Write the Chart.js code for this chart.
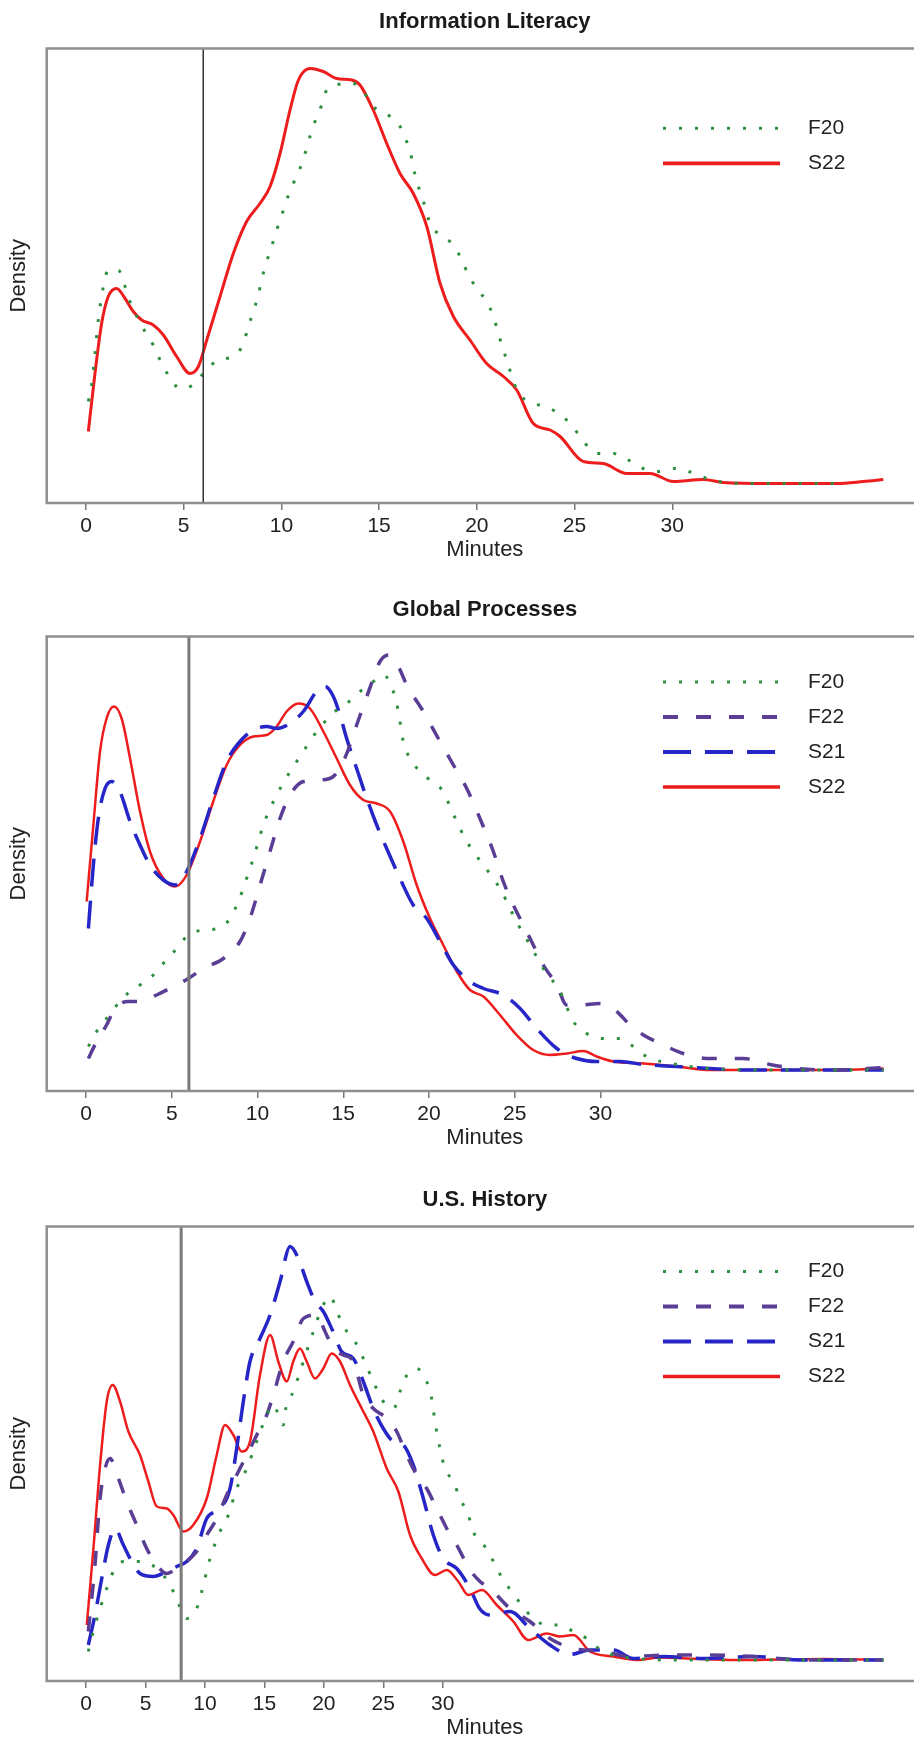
<!DOCTYPE html>
<html><head><meta charset="utf-8">
<script src="https://cdn.jsdelivr.net/npm/chart.js@4.4.1/dist/chart.umd.min.js"></script>
<style>
html,body{margin:0;padding:0;width:914px;height:1742px;overflow:hidden;background:#fff;}
canvas{position:absolute;left:0;}
</style></head><body>
<canvas id="c1" width="970" height="566" style="top:0px"></canvas>
<canvas id="c2" width="970" height="566" style="top:588px"></canvas>
<canvas id="c3" width="970" height="566" style="top:1178px"></canvas>
<script>
// ---------- DATA ----------
const panelTitles = ["Information Literacy", "Global Processes", "U.S. History"];
const xTickValues = [0, 5, 10, 15, 20, 25, 30];
const cutoffMinutes = [6, 6, 8];

// Information Literacy
const il_F20_min = [0.12,0.29,0.46,0.63,0.89,1.14,1.65,2.0,2.25,3.02,3.44,3.79,4.21,4.81,5.58,6.09,6.77,7.54,8.05,8.31,8.56,8.82,9.0,9.25,9.5,9.76,10.02,10.27,10.61,10.95,11.21,11.46,11.72,12.06,12.32,13.0,13.6,14.2,14.7,15.47,16.07,16.41,16.67,16.84,17.09,17.35,17.6,18.12,18.8,19.23,19.57,20.0,20.5,20.85,21.1,21.36,21.61,21.87,22.21,22.98,23.75,24.51,25.03,25.54,26.14,26.99,27.75,28.52,29.29,30.14,31.0,32.0,34.0,38.4];
const il_F20_den = [0.0165,0.0198,0.0261,0.0328,0.0395,0.0428,0.0428,0.0395,0.0365,0.0305,0.0278,0.0248,0.0218,0.0191,0.0201,0.0225,0.0248,0.0255,0.0281,0.0315,0.0345,0.0378,0.0411,0.0445,0.0475,0.0508,0.0538,0.0568,0.0601,0.0631,0.0661,0.0695,0.0725,0.0758,0.0788,0.0800,0.0802,0.0784,0.0755,0.0738,0.0715,0.0685,0.0651,0.0618,0.0585,0.0555,0.0521,0.0498,0.0478,0.0448,0.0418,0.0391,0.0365,0.0335,0.0301,0.0268,0.0238,0.0205,0.0178,0.0161,0.0151,0.0131,0.0108,0.0081,0.0061,0.0061,0.0048,0.0031,0.0025,0.0031,0.0023,0.0008,0.0001,0.0001];
const il_S22_min = [0.12,0.46,0.8,1.14,1.57,2.0,2.42,2.85,3.44,3.96,4.64,5.32,5.75,6.18,6.86,7.54,8.22,8.9,9.42,9.93,10.44,10.87,11.46,12.14,12.83,13.6,14.02,14.7,15.39,16.07,16.75,17.44,18.12,18.8,19.65,20.5,21.36,22.04,22.89,23.75,24.26,25.45,26.47,27.67,28.86,30.06,31.59,32.6,35.0,38.42,39.78,40.8];
const il_S22_den = [0.0105,0.0221,0.0321,0.0375,0.0391,0.0371,0.0345,0.0328,0.0318,0.0298,0.0255,0.0221,0.0235,0.0288,0.0375,0.0461,0.0525,0.0561,0.0595,0.0661,0.0748,0.0808,0.0831,0.0825,0.0811,0.0808,0.0798,0.0748,0.0681,0.0621,0.0581,0.0515,0.0401,0.0335,0.0288,0.0241,0.0215,0.0188,0.0121,0.0108,0.0095,0.0045,0.0041,0.0021,0.0021,0.0005,0.0009,0.0003,0.0001,0.0001,0.0005,0.0009];

// Global Processes
const gp_F20_min = [0.14,0.62,1.2,1.98,2.57,3.15,3.92,4.61,5.29,5.87,6.84,7.71,8.4,8.88,9.17,9.46,9.76,10.05,10.34,10.73,11.12,11.6,12.09,12.67,13.16,13.94,14.62,15.2,15.98,16.75,17.34,17.92,18.21,18.5,18.89,19.48,20.16,20.83,21.22,21.62,22.1,22.58,23.17,23.75,24.24,24.72,25.21,25.89,26.66,27.64,28.42,29.19,30.16,31.14,31.91,32.69,34.44,36.38,39.88,46.5];
const gp_F20_den = [0.0047,0.0077,0.0103,0.0137,0.0157,0.0170,0.0190,0.0217,0.0243,0.0267,0.0280,0.0283,0.0303,0.0337,0.0363,0.0393,0.0423,0.0457,0.0490,0.0523,0.0550,0.0580,0.0607,0.0637,0.0663,0.0697,0.0720,0.0733,0.0757,0.0777,0.0790,0.0757,0.0717,0.0657,0.0623,0.0597,0.0577,0.0557,0.0527,0.0497,0.0463,0.0437,0.0410,0.0383,0.0357,0.0323,0.0290,0.0250,0.0203,0.0157,0.0097,0.0073,0.0063,0.0063,0.0047,0.0027,0.0011,0.0003,0,0];
const gp_F22_min = [0.14,0.62,1.2,1.69,2.47,3.15,4.12,5.09,5.97,6.84,8.01,8.98,9.56,10.15,10.73,11.31,11.9,12.67,13.64,14.42,15.0,15.39,15.78,16.27,16.75,17.14,17.63,18.21,18.7,19.67,20.64,21.42,22.2,22.97,23.75,24.33,24.92,25.5,26.08,26.66,27.45,28.03,28.8,29.97,30.94,31.72,32.5,33.66,34.83,36.38,38.33,39.88,41.44,43.77,46.5];
const gp_F22_den = [0.0023,0.0057,0.0090,0.0123,0.0137,0.0137,0.0150,0.0167,0.0183,0.0203,0.0223,0.0257,0.0303,0.0370,0.0437,0.0503,0.0550,0.0577,0.0580,0.0587,0.0617,0.0650,0.0690,0.0737,0.0783,0.0817,0.0830,0.0807,0.0770,0.0717,0.0657,0.0610,0.0563,0.0503,0.0437,0.0377,0.0330,0.0290,0.0250,0.0210,0.0170,0.0130,0.0130,0.0133,0.0117,0.0090,0.0070,0.0050,0.0033,0.0023,0.0023,0.0011,0.0003,0,0.0005];
const gp_S21_min = [0.14,0.43,0.72,1.11,1.5,1.98,2.57,3.15,3.73,4.51,5.19,5.87,6.65,7.42,8.2,8.98,9.76,10.54,11.12,11.9,12.67,13.45,13.94,14.42,14.81,15.2,15.78,16.37,16.95,17.53,18.31,19.08,19.87,20.64,21.42,22.39,23.17,24.33,25.31,26.28,27.45,28.61,29.78,31.14,32.5,34.44,36.38,37.94,41.83,46.5];
const gp_S21_den = [0.0283,0.0410,0.0503,0.0563,0.0577,0.0557,0.0497,0.0450,0.0410,0.0380,0.0370,0.0397,0.0463,0.0543,0.0617,0.0657,0.0680,0.0687,0.0683,0.0693,0.0717,0.0757,0.0767,0.0747,0.0710,0.0663,0.0603,0.0543,0.0490,0.0443,0.0383,0.0330,0.0303,0.0257,0.0210,0.0177,0.0163,0.0150,0.0123,0.0083,0.0043,0.0023,0.0017,0.0017,0.0011,0.0007,0.0003,0,0,0];
const gp_S22_min = [0.04,0.43,0.82,1.2,1.63,2.08,2.57,3.15,3.73,4.51,5.19,5.87,6.65,7.42,8.2,8.98,9.76,10.54,11.12,11.7,12.38,13.06,13.84,14.62,15.39,16.17,16.95,17.73,18.5,19.28,20.06,20.83,21.62,22.39,23.17,24.14,25.11,26.08,27.06,28.03,29.0,29.78,30.75,32.5,34.44,36.38,39.88,43.77,46.5];
const gp_S22_den = [0.0337,0.0490,0.0637,0.0703,0.0727,0.0703,0.0623,0.0517,0.0437,0.0383,0.0367,0.0390,0.0457,0.0537,0.0610,0.0650,0.0667,0.0670,0.0687,0.0717,0.0733,0.0723,0.0677,0.0623,0.0570,0.0540,0.0533,0.0517,0.0457,0.0370,0.0303,0.0250,0.0197,0.0160,0.0147,0.0110,0.0070,0.0040,0.0030,0.0033,0.0038,0.0027,0.0017,0.0013,0.0007,0,0,0,0.0003];

// U.S. History
const us_F20_min = [0.19,0.61,1.18,1.74,2.3,3.14,4.54,5.95,7.07,7.77,8.47,9.31,9.73,10.43,11.27,11.97,12.67,13.52,14.36,15.2,15.75,16.59,16.8,17.43,18.28,19.12,19.82,20.52,21.22,21.93,22.62,23.32,24.16,25.0,25.85,26.69,27.25,27.81,28.65,29.07,29.35,29.77,30.19,30.89,31.46,32.15,32.57,33.14,33.7,34.4,35.1,35.8,36.64,37.62,38.75,39.73,40.99,42.11,43.51,46.32,49.68,67.06];
const us_F20_den = [0.0017,0.0057,0.0103,0.0143,0.0177,0.0197,0.0197,0.0183,0.0150,0.0113,0.0083,0.0103,0.0137,0.0203,0.0257,0.0290,0.0343,0.0383,0.0437,0.0490,0.0510,0.0470,0.0503,0.0537,0.0597,0.0657,0.0703,0.0727,0.0690,0.0657,0.0637,0.0603,0.0557,0.0517,0.0503,0.0557,0.0577,0.0583,0.0557,0.0523,0.0477,0.0423,0.0383,0.0357,0.0323,0.0290,0.0257,0.0235,0.0223,0.0190,0.0160,0.0137,0.0110,0.0083,0.0070,0.0070,0.0057,0.0043,0.0017,0.0003,0,0];
const us_F22_min = [0.19,0.75,1.18,1.6,2.02,2.72,3.42,4.26,5.1,5.95,6.79,7.63,8.47,9.31,10.15,10.99,11.83,12.67,13.52,14.36,15.2,15.75,16.59,17.43,18.28,19.4,20.1,20.8,21.64,22.48,23.32,24.16,25.29,26.13,26.97,27.81,28.65,29.5,30.34,31.18,32.3,33.14,33.98,35.66,37.34,39.02,40.99,43.51,45.75,49.12,51.92,56.12,60.33,67.06];
const us_F22_den = [0.0057,0.0190,0.0323,0.0383,0.0403,0.0363,0.0317,0.0270,0.0223,0.0190,0.0173,0.0183,0.0197,0.0217,0.0250,0.0283,0.0330,0.0370,0.0410,0.0450,0.0490,0.0530,0.0597,0.0637,0.0683,0.0690,0.0657,0.0623,0.0610,0.0597,0.0530,0.0503,0.0483,0.0457,0.0410,0.0370,0.0343,0.0303,0.0263,0.0230,0.0180,0.0157,0.0143,0.0103,0.0077,0.0043,0.0023,0.0017,0.0007,0.0010,0.0010,0.0007,0,0];
const us_S21_min = [0.19,0.75,1.32,1.88,2.44,3.14,3.84,4.54,5.66,6.79,7.63,8.47,9.31,10.15,11.27,12.11,12.67,13.23,13.79,14.63,15.48,16.32,17.16,17.86,18.56,19.26,19.96,20.66,21.5,22.48,23.32,24.16,25.0,25.85,26.69,27.53,28.37,29.21,30.05,31.18,32.3,33.1,33.98,35.66,37.34,39.02,40.7,42.39,44.35,46.03,48.55,51.92,56.12,60.33,67.06];
const us_S21_den = [0.0030,0.0090,0.0163,0.0230,0.0263,0.0230,0.0197,0.0173,0.0167,0.0177,0.0187,0.0197,0.0223,0.0283,0.0303,0.0343,0.0423,0.0517,0.0597,0.0643,0.0690,0.0757,0.0827,0.0803,0.0757,0.0717,0.0697,0.0663,0.0617,0.0603,0.0557,0.0503,0.0463,0.0437,0.0430,0.0390,0.0323,0.0250,0.0203,0.0183,0.0143,0.0103,0.0090,0.0097,0.0063,0.0030,0.0011,0.0020,0.0020,0.0003,0.0007,0.0003,0.0007,0,0];
const us_S22_min = [0.06,0.62,1.18,1.74,2.24,2.86,3.56,4.54,5.24,5.95,6.79,7.34,8.18,9.02,10.15,10.99,11.69,12.39,13.09,13.79,14.63,15.48,16.17,16.88,17.43,17.99,18.56,19.26,19.96,20.66,21.36,22.2,23.19,24.16,25.29,26.27,27.25,28.24,29.35,30.34,31.31,32.15,33.3,34.54,35.94,37.2,38.75,39.87,40.99,42.39,44.35,46.32,48.28,50.52,54.73,62.01,67.06];
const us_S22_den = [0.0070,0.0223,0.0390,0.0517,0.0550,0.0517,0.0457,0.0410,0.0357,0.0307,0.0303,0.0290,0.0257,0.0270,0.0323,0.0410,0.0470,0.0450,0.0417,0.0437,0.0570,0.0650,0.0597,0.0557,0.0597,0.0623,0.0597,0.0563,0.0583,0.0613,0.0597,0.0550,0.0503,0.0457,0.0383,0.0337,0.0250,0.0203,0.0170,0.0180,0.0157,0.0130,0.0140,0.0110,0.0077,0.0040,0.0053,0.0047,0.0050,0.0017,0.0007,0,0.0005,0.0003,0,0.0002,0];

// ---------- STYLE / RENDER ----------
const FONT = '"Liberation Sans", Arial, Helvetica, sans-serif';
const STYLE = {
  F20: {color: '#2f8f3f', width: 3,   dash: [3, 13]},
  F22: {color: '#5a3d94', width: 3.5, dash: [15, 18]},
  S21: {color: '#2626c8', width: 3.5, dash: [28, 14]},
  S22: {color: '#ee1d1d', width: 3,   dash: []}
};

function pts(xs, ys) {
  const n = Math.min(xs.length, ys.length);
  const out = [];
  for (let i = 0; i < n; i++) out.push({x: xs[i], y: ys[i]});
  return out;
}
function ds(name, xs, ys, w) {
  const s = STYLE[name];
  return {
    label: name, data: pts(xs, ys),
    borderColor: s.color, backgroundColor: s.color,
    borderWidth: w || s.width, borderDash: s.dash, borderCapStyle: 'butt',
    pointRadius: 0, cubicInterpolationMode: 'monotone', fill: false
  };
}

const decor = {
  id: 'decor',
  afterDatasetsDraw(chart, args, opts) {
    const {ctx, chartArea: a, scales: {x}} = chart;
    ctx.save();
    // cutoff line
    const px = x.getPixelForValue(opts.cutoff);
    ctx.setLineDash([]);
    ctx.strokeStyle = opts.cutoffColor;
    ctx.lineWidth = opts.cutoffWidth;
    ctx.beginPath(); ctx.moveTo(px, a.top); ctx.lineTo(px, a.bottom); ctx.stroke();
    // box
    ctx.strokeStyle = '#8f8f8f';
    ctx.lineWidth = 2.5;
    ctx.strokeRect(a.left, a.top, a.right - a.left, a.bottom - a.top);
    // legend
    chart.data.datasets.forEach((d, i) => {
      const yy = opts.legendTop + i * 35;
      const dash = d.borderDash || [];
      ctx.strokeStyle = d.borderColor;
      ctx.lineWidth = (dash.length && dash[0] <= 3) ? d.borderWidth : Math.max(d.borderWidth, 3) + 0.7;
      ctx.lineCap = 'butt';
      ctx.setLineDash(dash);
      ctx.beginPath(); ctx.moveTo(663, yy); ctx.lineTo(780, yy); ctx.stroke();
      ctx.setLineDash([]);
      ctx.fillStyle = '#222';
      ctx.font = '21px ' + FONT;
      ctx.textBaseline = 'middle';
      ctx.textAlign = 'left';
      ctx.fillText(d.label, 808, yy);
    });
    ctx.restore();
  }
};

function makeChart(id, idx, datasets, xmin, xmax, ymin, ymax, decorOpts) {
  return new Chart(document.getElementById(id), {
    type: 'line',
    data: {datasets},
    plugins: [decor],
    options: {
      responsive: false, animation: false, devicePixelRatio: 1,
      layout: {padding: {left: 0, right: 47, top: 0, bottom: 0}},
      plugins: {
        legend: {display: false},
        tooltip: {enabled: false},
        title: {display: true, fullSize: false, text: panelTitles[idx], color: '#1a1a1a',
                font: {family: FONT, size: 22, weight: 'bold', lineHeight: 1.2},
                padding: {top: 8.5, bottom: 13.6}},
        decor: decorOpts
      },
      scales: {
        x: {
          type: 'linear', min: xmin, max: xmax,
          afterFit(s) { s.height = 63; },
          afterBuildTicks(s) { s.ticks = xTickValues.map(v => ({value: v})); },
          ticks: {color: '#222', font: {family: FONT, size: 21}, padding: 3.5,
                  maxRotation: 0, autoSkip: false, callback: v => String(v)},
          grid: {display: true, drawOnChartArea: false, drawTicks: true, tickLength: 7,
                 color: '#777', lineWidth: 1.5},
          border: {display: false},
          title: {display: true, text: 'Minutes', color: '#222',
                  font: {family: FONT, size: 22}, padding: {top: 0, bottom: 2.8}}
        },
        y: {
          type: 'linear', min: ymin, max: ymax,
          afterFit(s) { s.width = 46.7; },
          ticks: {display: false},
          grid: {display: false},
          border: {display: false},
          title: {display: true, text: 'Density', color: '#222',
                  font: {family: FONT, size: 22}, padding: {top: 6, bottom: 0}}
        }
      }
    }
  });
}

makeChart('c1', 0, [
  ds('F20', il_F20_min, il_F20_den),
  ds('S22', il_S22_min, il_S22_den, 3)
], -2.01, 42.83, -0.0038, 0.0871,
  {cutoff: cutoffMinutes[0], cutoffColor: '#333', cutoffWidth: 1.5, legendTop: 128.3});

makeChart('c2', 1, [
  ds('F20', gp_F20_min, gp_F20_den),
  ds('F22', gp_F22_min, gp_F22_den),
  ds('S21', gp_S21_min, gp_S21_den),
  ds('S22', gp_S22_min, gp_S22_den, 2.5)
], -2.29, 48.8, -0.0042, 0.0867,
  {cutoff: cutoffMinutes[1], cutoffColor: '#7a7a7a', cutoffWidth: 3, legendTop: 94});

makeChart('c3', 2, [
  ds('F20', us_F20_min, us_F20_den),
  ds('F22', us_F22_min, us_F22_den),
  ds('S21', us_S21_min, us_S21_den),
  ds('S22', us_S22_min, us_S22_den, 2.5)
], -3.31, 70.4, -0.0042, 0.0867,
  {cutoff: cutoffMinutes[2], cutoffColor: '#7a7a7a', cutoffWidth: 3, legendTop: 93.5});
</script>
</body></html>
